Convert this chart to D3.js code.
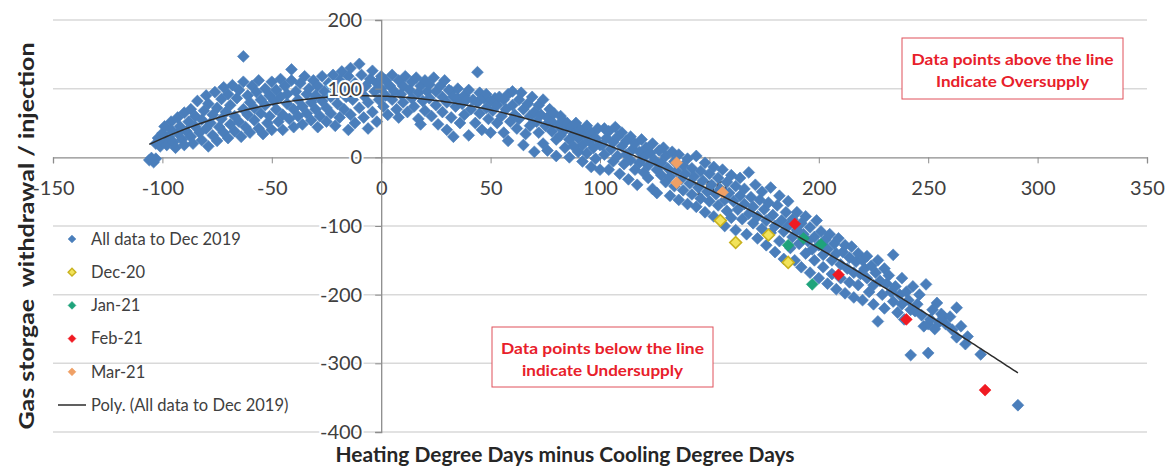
<!DOCTYPE html>
<html>
<head>
<meta charset="utf-8">
<script src="https://cdn.jsdelivr.net/npm/d3@7"></script>
<style>
  body { margin: 0; background: #fff; }
  svg { font-family: Lato, "Open Sans", sans-serif; }
</style>
</head>
<body>
<script>
/***Data (weekly storage change vs HDD-CDD)***/
var allData = [
  [-106,-4],[-104,-7],[-103,-2],[-105,-1],
  [-103,20],[-102,28],[-101,16],[-100,35],[-100,24],[-99,45],[-98,18],[-97,30],[-96,52],[-96,40],[-95,22],[-94,14],[-93,35],[-93,58],[-92,45],[-91,26],[-90,65],[-90,18],
  [-89,38],[-88,52],[-87,30],[-87,70],[-86,20],[-85,45],[-85,60],[-84,82],[-83,36],[-82,25],[-82,55],[-81,68],[-80,90],[-80,42],[-79,16],[-79,78],
  [-78,50],[-77,62],[-77,32],[-76,95],[-75,72],[-75,24],[-74,44],[-73,85],[-73,56],[-72,102],[-72,36],[-71,66],[-70,28],[-70,92],[-69,48],[-69,76],
  [-68,105],[-67,60],[-67,38],[-66,86],[-65,98],[-65,52],[-64,30],[-63,147],[-63,70],[-63,110],[-62,44],[-61,90],[-61,62],[-60,80],[-60,36],[-59,104],
  [-58,54],[-58,72],[-57,95],[-56,42],[-56,112],[-55,64],[-55,84],[-54,34],[-53,100],[-53,76],[-52,50],[-51,90],[-51,60],[-50,110],[-50,40],[-49,82],
  [-48,70],[-48,98],[-47,52],[-46,88],[-46,114],[-45,62],[-45,40],[-44,104],[-43,78],[-43,92],[-42,56],[-41,128],[-41,112],[-40,70],[-40,44],[-39,96],
  [-38,84],[-38,60],[-37,108],[-36,74],[-36,48],[-35,118],[-34,92],[-34,64],[-33,100],[-32,80],[-32,54],[-31,112],[-30,70],[-30,90],[-29,44],[-29,104],
  [-28,60],[-27,118],[-27,82],[-26,96],[-25,52],[-25,72],[-24,108],[-23,88],[-23,64],[-22,120],[-21,100],[-21,46],[-20,78],[-20,92],[-19,58],[-19,112],
  [-18,125],[-17,70],[-17,100],[-16,88],[-15,40],[-15,118],[-14,62],[-14,130],[-13,84],[-12,108],[-12,50],[-11,96],[-10,136],[-10,72],[-9,120],[-8,58],
  [-8,90],[-7,104],[-6,42],[-6,80],[-5,114],[-4,126],[-4,66],[-3,96],[-2,108],[-2,52],[-1,84],[0,118],[0,100],[1,74],[2,90],
  [2,112],[3,62],[4,104],[5,84],[5,120],[6,96],[7,70],[8,112],[8,58],[9,92],[10,104],[10,80],[11,118],[12,66],
  [13,98],[14,86],[14,110],[15,74],[16,116],[17,94],[17,56],[18,48],[18,104],[19,82],[20,112],[20,68],[21,96],
  [22,106],[22,86],[23,60],[24,116],[25,76],[25,96],[26,48],[27,104],[28,88],[28,66],[29,112],[30,80],[30,40],
  [31,98],[32,96],[32,58],[33,30],[33,88],[34,74],[35,100],[35,86],[36,50],[37,78],[38,90],[38,62],[39,84],[40,98],
  [40,32],[41,70],[42,84],[43,50],[44,124],[44,80],[45,94],[45,64],[46,40],[47,86],[48,72],[48,92],[49,56],[50,82],
  [50,36],[51,68],[52,86],[53,76],[53,50],[54,88],[55,60],[56,84],[56,36],[57,70],[58,92],[58,24],[59,52],[60,76],
  [60,96],[61,62],[62,42],[63,84],[63,56],[64,94],[65,70],[65,18],[66,34],[67,78],[68,60],[68,46],[69,88],[70,66],[70,8],
  [71,52],[72,76],[72,36],[73,62],[74,20],[74,84],[75,46],[76,58],[76,10],[77,70],[78,38],[78,52],[79,64],[80,26],[80,2],
  [81,46],[82,60],[82,32],[83,54],[84,14],[84,40],[85,50],[86,26],[86,0],[87,44],[88,34],[88,16],[89,50],[90,8],[90,28],
  [91,40],[92,18],[92,-6],[93,32],[94,46],[94,6],[95,24],[96,-14],[96,36],[97,14],[98,-2],[98,28],[99,42],[100,18],[100,-18],
  [101,18],[102,42],[102,4],[103,28],[104,-18],[104,38],[105,12],[106,22],[106,-6],[107,44],[108,30],[108,2],[109,-24],[110,16],[110,36],
  [111,-10],[112,24],[112,4],[113,-32],[114,30],[114,-4],[115,12],[116,-18],[116,20],[117,-40],[118,8],[118,-8],[119,26],[120,-22],[120,0],
  [121,14],[122,-30],[122,-12],[123,6],[124,-46],[124,20],[125,-4],[126,-18],[126,-52],[127,10],[128,-26],[128,-8],[129,14],[130,-36],[130,2],
  [131,-16],[132,-56],[132,-28],[133,8],[134,-6],[134,-42],[135,-20],[136,-62],[136,4],[137,-32],[138,-12],[138,-48],[139,-24],[140,-2],[140,-68],
  [141,-38],[142,-16],[142,-54],[143,-28],[144,2],[144,-72],[145,-44],[146,-20],[146,-60],[147,-34],[148,-8],[148,-80],[149,-50],[150,-24],[150,-64],
  [151,-40],[152,-14],[152,-86],[153,-54],[154,-30],[154,-70],[155,-46],[156,-18],[157,-62],[157,-100],[158,-36],[158,-78],[159,-52],[160,-26],[160,-88],
  [161,-64],[162,-42],[162,-106],[163,-76],[164,-30],[164,-56],[165,-90],[166,-68],[166,-46],[167,-112],[168,-82],[168,-22],[169,-58],[170,-96],[170,-72],
  [171,-40],[172,-118],[172,-86],[173,-62],[174,-104],[174,-50],[175,-76],[176,-92],[176,-128],[177,-66],[178,-44],[178,-110],[179,-84],[180,-100],[180,-138],
  [181,-70],[182,-122],[182,-56],[183,-92],[184,-108],[184,-148],[185,-80],[186,-100],[186,-64],[187,-132],[188,-116],[188,-90],[189,-150],[190,-106],[190,-80],
  [191,-126],[192,-160],[192,-96],[193,-112],[194,-140],[194,-86],[195,-122],[196,-168],[196,-102],[197,-134],[198,-116],[198,-150],[199,-92],[200,-128],[200,-176],
  [201,-108],[202,-142],[202,-160],[203,-120],[204,-184],[204,-134],[205,-112],[206,-150],[206,-170],[207,-126],[208,-140],[208,-192],[209,-118],[210,-156],[210,-176],
  [211,-138],[212,-128],[212,-198],[213,-162],[214,-146],[214,-182],[215,-130],[216,-168],[216,-204],[217,-152],[218,-140],[218,-186],[219,-170],[220,-150],[220,-208],
  [221,-162],[222,-176],[222,-144],[223,-196],[224,-158],[225,-186],[225,-214],[226,-168],[227,-239],[227,-150],[228,-180],[229,-200],[230,-162],[230,-220],
  [231,-184],[232,-172],[233,-196],[234,-142],[234,-210],[235,-188],[236,-226],[237,-200],[238,-176],[238,-214],[239,-236],[240,-196],
  [241,-208],[242,-288],[242,-222],[243,-188],[244,-224],[245,-214],[246,-200],[247,-230],[248,-246],[249,-185],[250,-285],[250,-243],
  [251,-236],[252,-222],[253,-250],[254,-212],[255,-240],[256,-228],[257,-232],[258,-243],[260,-232],
  [261,-251],[263,-219],[263,-262],[265,-246],[267,-272],[268,-261],[274,-287],
  [291,-361]
];
var dec20 = [[155,-92],[162,-124],[177,-113],[186,-153]];
var jan21 = [[186,-128],[193,-118],[201,-127],[197,-185]];
var feb21 = [[189,-97],[209,-171],[240,-236],[276,-339]];
var mar21 = [[135,-8],[135,-37],[156,-51]];

var seriesNames  = ["All data to Dec 2019", "Dec-20", "Jan-21", "Feb-21", "Mar-21"];
var seriesFill   = ["#4A7EBB", "#F2E35A", "#1FA37B", "#F01A22", "#EFA066"];
var seriesStroke = ["#4A7EBB", "#C9B21E", "#1FA37B", "#F01A22", "#EFA066"];
var trendName = "Poly. (All data to Dec 2019)";
var trendOrder = 3;

var xTicks = [-150, -100, -50, 0, 50, 100, 150, 200, 250, 300, 350];
var yTicks = [-400, -300, -200, -100, 0, 100, 200];

var xTitle = "Heating Degree Days minus Cooling Degree Days";
var yTitle = "Gas storgae  withdrawal / injection";
var noteAbove = ["Data points above the line", "Indicate Oversupply"];
var noteBelow = ["Data points below the line", "indicate Undersupply"];

//Width, Height and margin
var W = 1168, H = 470;
var margin = {top: 20, right: 21, bottom: 38, left: 53},
    w = W - margin.left - margin.right,
    h = H - margin.top - margin.bottom;

/***Least squares polynomial (like Excel's Poly. trendline)***/
function polyFit(data, order)
{
  var n = order + 1, A = [], i, j, k;
  for (i = 0; i < n; i++) { A.push(new Array(n + 1).fill(0)); }
  data.forEach(function(d) {
    var x = d[0] / 100;
    for (i = 0; i < n; i++) {
      for (j = 0; j < n; j++) A[i][j] += Math.pow(x, i + j);
      A[i][n] += d[1] * Math.pow(x, i);
    }
  });
  for (i = 0; i < n; i++) {
    var p = i;
    for (k = i + 1; k < n; k++) if (Math.abs(A[k][i]) > Math.abs(A[p][i])) p = k;
    var t = A[i]; A[i] = A[p]; A[p] = t;
    for (k = i + 1; k < n; k++) {
      var f = A[k][i] / A[i][i];
      for (j = i; j <= n; j++) A[k][j] -= f * A[i][j];
    }
  }
  var c = new Array(n).fill(0);
  for (i = n - 1; i >= 0; i--) {
    var s = A[i][n];
    for (j = i + 1; j < n; j++) s -= A[i][j] * c[j];
    c[i] = s / A[i][i];
  }
  return function(x) {
    var xs = x / 100, y = 0;
    for (var m = n - 1; m >= 0; m--) y = y * xs + c[m];
    return y;
  };
}

var svg = d3.select("body")
            .append("svg")
            .attr("width", W)
            .attr("height", H);

var g = svg.append("g")
           .attr("transform", "translate(" + margin.left + "," + margin.top + ")");

/***Scales***/
var xScale = d3.scaleLinear().domain([-150, 350]).range([0, w]);
var yScale = d3.scaleLinear().domain([-400, 200]).range([h, 0]);

/***Gridlines***/
g.selectAll(".grid")
  .data(yTicks.filter(function(d) { return d !== 0; }))
  .enter().append("line")
    .attr("class", "grid")
    .attr("x1", 0).attr("x2", w)
    .attr("y1", function(d) { return yScale(d); })
    .attr("y2", function(d) { return yScale(d); })
    .attr("stroke", "#d9d9d9")
    .attr("stroke-width", 1.5);

/***Axes***/
var xAxis = d3.axisBottom(xScale)
              .tickValues(xTicks)
              .tickSize(6)
              .tickPadding(17)
              .tickFormat(function(d) { return String(d); });
var yAxis = d3.axisLeft(yScale)
              .tickValues(yTicks)
              .tickSize(6)
              .tickPadding(13)
              .tickFormat(function(d) { return String(d); });

var gx = g.append("g")
  .attr("class", "xaxis")
  .attr("transform", "translate(0," + yScale(0) + ")")
  .call(xAxis);

var gy = g.append("g")
  .attr("class", "yaxis")
  .attr("transform", "translate(" + xScale(0) + ",0)")
  .call(yAxis);

[gx, gy].forEach(function(ax) {
  ax.select(".domain").attr("stroke", "#8c8c8c").attr("stroke-width", 1.3);
  ax.selectAll(".tick line").attr("stroke", "#8c8c8c");
  ax.selectAll(".tick text")
    .attr("fill", "#404040")
    .style("font-size", "20px")
    .style("font-family", "Lato, sans-serif");
});
gy.selectAll(".tick text")
  .attr("stroke", "#fff").attr("stroke-width", 4)
  .style("paint-order", "stroke");

/***Points***/
var diamond = d3.symbol().type(d3.symbolSquare).size(70);
var groups = [allData, dec20, jan21, feb21, mar21];

groups.forEach(function(set, si) {
  g.append("g")
    .attr("class", "series s" + si)
    .selectAll("path")
    .data(set)
    .enter().append("path")
      .attr("d", diamond)
      .attr("transform", function(d) {
        return "translate(" + xScale(d[0]) + "," + yScale(d[1]) + ") rotate(45)";
      })
      .attr("fill", seriesFill[si])
      .attr("stroke", seriesStroke[si])
      .attr("stroke-width", si === 1 ? 1.6 : 0.6);
});

/***Trendline***/
var fit = polyFit(allData, trendOrder);
var xExt = d3.extent(allData, function(d) { return d[0]; });
var trendPts = d3.range(xExt[0], xExt[1] + 0.5, 1).map(function(x) { return [x, fit(x)]; });

var trendLine = d3.line()
                  .x(function(d) { return xScale(d[0]); })
                  .y(function(d) { return yScale(d[1]); });

g.append("path")
  .datum(trendPts)
  .attr("d", trendLine)
  .attr("fill", "none")
  .attr("stroke", "#2b2b2b")
  .attr("stroke-width", 1.5);

// y labels sit on top of the points like in the original
gy.raise();

/***Legend***/
var legend = svg.append("g").attr("class", "legend");
var rowY = d3.scalePoint().domain(d3.range(6)).range([239, 405]);

seriesNames.forEach(function(name, i) {
  legend.append("path")
    .attr("d", d3.symbol().type(d3.symbolSquare).size(30))
    .attr("transform", "translate(72," + rowY(i) + ") rotate(45)")
    .attr("fill", seriesFill[i])
    .attr("stroke", seriesStroke[i])
    .attr("stroke-width", i === 1 ? 1.4 : 0.6);
  legend.append("text")
    .attr("x", 91).attr("y", rowY(i))
    .attr("dy", "0.35em")
    .attr("fill", "#404040")
    .style("font-size", "16.5px")
    .text(name);
});
legend.append("line")
  .attr("x1", 58).attr("x2", 86)
  .attr("y1", rowY(5)).attr("y2", rowY(5))
  .attr("stroke", "#2b2b2b").attr("stroke-width", 1.5);
legend.append("text")
  .attr("x", 91).attr("y", rowY(5))
  .attr("dy", "0.35em")
  .attr("fill", "#404040")
  .style("font-size", "16.5px")
  .text(trendName);

/***Axis titles***/
svg.append("text")
  .attr("x", 565).attr("y", 462)
  .attr("text-anchor", "middle")
  .attr("fill", "#262626")
  .attr("textLength", 459)
  .attr("lengthAdjust", "spacingAndGlyphs")
  .style("font-size", "20px").style("font-weight", "bold")
  .text(xTitle);

svg.append("text")
  .attr("transform", "translate(34,236) rotate(-90)")
  .attr("text-anchor", "middle")
  .attr("fill", "#262626")
  .attr("textLength", 387)
  .attr("lengthAdjust", "spacingAndGlyphs")
  .attr("xml:space", "preserve")
  .style("white-space", "pre")
  .style("font-size", "21px").style("font-weight", "bold")
  .text(yTitle);

/***Annotation boxes***/
function note(x, y, bw, bh, lines, widths)
{
  var n = svg.append("g").attr("class", "note");
  n.append("rect")
    .attr("x", x).attr("y", y).attr("width", bw).attr("height", bh)
    .attr("fill", "#fff")
    .attr("stroke", "#e0505a").attr("stroke-width", 1);
  lines.forEach(function(t, i) {
    n.append("text")
      .attr("x", x + bw / 2)
      .attr("y", y + 21 + i * 22.5)
      .attr("dy", "0.35em")
      .attr("text-anchor", "middle")
      .attr("fill", "#e8202a")
      .attr("textLength", widths[i])
      .attr("lengthAdjust", "spacingAndGlyphs")
      .style("font-size", "16px").style("font-weight", "bold")
      .text(t);
  });
}
note(902, 38, 221, 61, noteAbove, [202, 153]);
note(492, 327, 221, 60, noteBelow, [203, 161]);
</script>
</body>
</html>
